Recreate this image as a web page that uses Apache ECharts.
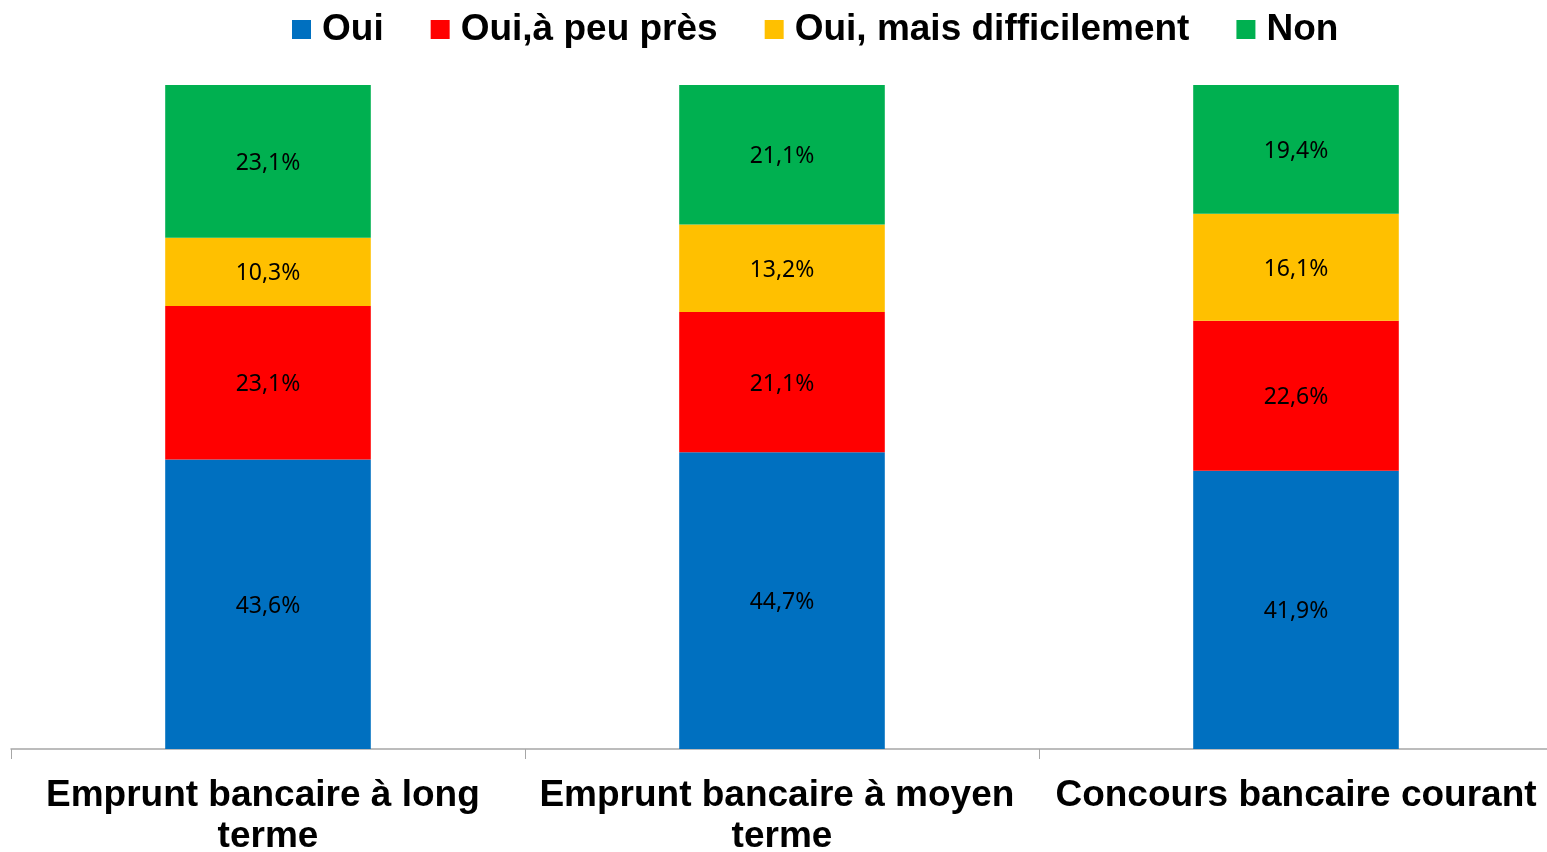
<!DOCTYPE html>
<html>
<head>
<meta charset="utf-8">
<title>Emprunts bancaires</title>
<script src="https://cdn.jsdelivr.net/npm/echarts@6/dist/echarts.min.js"></script>
<style>
  html, body { margin: 0; padding: 0; background: #fff; }
  #chart { width: 1547px; height: 852px; }
</style>
</head>
<body>
<div id="chart"></div>
<script>
// categories and series values (%)
var categories = ['Emprunt bancaire à long terme', 'Emprunt bancaire à moyen terme', 'Concours bancaire courant'];
var seriesNames = ['Oui', 'Oui,à peu près', 'Oui, mais difficilement', 'Non'];
var oui = [43.6, 44.7, 41.9];
var ouiPeuPres = [23.1, 21.1, 22.6];
var ouiDifficile = [10.3, 13.2, 16.1];
var non = [23.1, 21.1, 19.4];
var colors = ['#0070C0', '#FF0000', '#FFC000', '#00B050'];

var myChart = echarts.init(document.getElementById('chart'));

function makeSeries(name, data, color) {
    return {
        name: name,
        type: 'bar',
        stack: 'total',
        barWidth: '40%',
        data: data,
        itemStyle: { color: color },
        label: {
            show: true,
            position: 'inside',
            offset: [0, 2],
            color: '#000',
            fontFamily: 'Noto Sans',
            fontSize: 23,
            formatter: function (p) {
                return p.value.toFixed(1).replace('.', ',') + '%';
            }
        }
    };
}

var option = {
    animation: false,
    color: colors,
    legend: {
        top: 6,
        left: 287,
        itemWidth: 19,
        itemHeight: 19,
        itemGap: 47,
        icon: 'rect',
        textStyle: {
            fontFamily: 'Liberation Sans',
            fontWeight: 'bold',
            fontSize: 37,
            color: '#000',
            padding: [0, 0, 0, 6]
        },
        data: seriesNames
    },
    grid: {
        left: 11,
        right: -6,
        top: 85,
        bottom: 103,
        containLabel: false,
        outerBoundsMode: 'none'
    },
    xAxis: {
        type: 'category',
        data: categories,
        axisLine: { lineStyle: { color: '#a6a6a6', width: 1.5 } },
        axisTick: { show: true, length: 10, lineStyle: { color: '#a6a6a6' } },
        axisLabel: {
            interval: 0,
            margin: 26,
            width: 505,
            overflow: 'break',
            lineHeight: 41,
            fontFamily: 'Liberation Sans',
            fontWeight: 'bold',
            fontSize: 37,
            color: '#000'
        }
    },
    yAxis: {
        type: 'value',
        min: 0,
        max: 100,
        show: false,
        splitLine: { show: false }
    },
    series: [
        makeSeries(seriesNames[0], oui, colors[0]),
        makeSeries(seriesNames[1], ouiPeuPres, colors[1]),
        makeSeries(seriesNames[2], ouiDifficile, colors[2]),
        makeSeries(seriesNames[3], non, colors[3])
    ]
};

myChart.setOption(option);
window.addEventListener('resize', function () {
    myChart.resize();
});
</script>
</body>
</html>
